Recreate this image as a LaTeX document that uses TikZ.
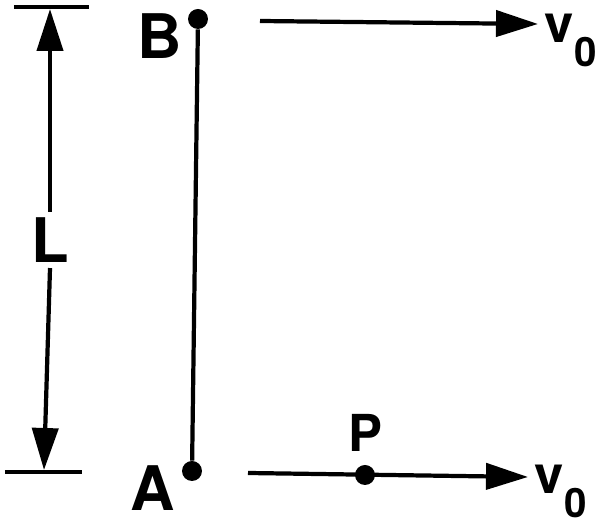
\documentclass[tikz,border=0pt]{standalone}
\usepackage{fontspec}
\setmainfont{TeX Gyre Heros}
\usetikzlibrary{arrows.meta,positioning,calc}
\newcommand{\vnull}{v\hspace{0.02cm}\raisebox{-0.48cm}{\fontsize{23}{26}\selectfont 0}}
\tikzset{
  pdot/.style={circle, fill=black, inner sep=0pt, minimum size=0.4cm},
  lbl/.style={font=\bfseries\fontsize{35}{40}\selectfont, inner sep=0pt},
  vel/.style={-{Triangle[length=0.84cm, width=0.52cm]}, line width=2.4pt},
  rod/.style={line width=2.4pt},
  dimtick/.style={line width=2.2pt},
}
\begin{document}
\begin{tikzpicture}[x=0.02cm, y=-0.02cm]
    \useasboundingbox (0,0) rectangle (600,526);
    \node[pdot] (b) at (198,19) {};
    \node[pdot] (a) at (192,471) {};
    \node[pdot] (p) at (365,475) {};
    \node[lbl] (lb) at (160,36) {B};
    \node[lbl] (la) at (153,488) {A};
    \node[lbl, font=\bfseries\fontsize{29}{32}\selectfont] (lp) at (365,433) {P};
    \node[lbl, inner sep=3pt] (ll) at (50,240) {L};
    \node[lbl, anchor=base west, font=\bfseries\fontsize{30}{34}\selectfont] (vt) at (544,43) {\vnull};
    \node[lbl, anchor=base west, font=\bfseries\fontsize{30}{34}\selectfont] (vb) at (534,494) {\vnull};
    \coordinate (t0) at (260,21); \coordinate (t1) at (538,24);
    \coordinate (u0) at (248,473); \coordinate (u1) at (528,477);
    \coordinate (d0) at (50,9); \coordinate (d1) at (44,470);
    \draw[dimtick] (14,7) -- (89,7);
    \draw[dimtick] (5,472) -- (82,472);
    \draw[vel] (ll.north) -- (d0);
    \draw[vel] (ll.south) -- (d1);
    \draw[rod] (b) -- (a);
    \draw[vel] (t0) -- (t1);
    \draw[vel] (u0) -- (u1);
  \end{tikzpicture}
\end{document}
